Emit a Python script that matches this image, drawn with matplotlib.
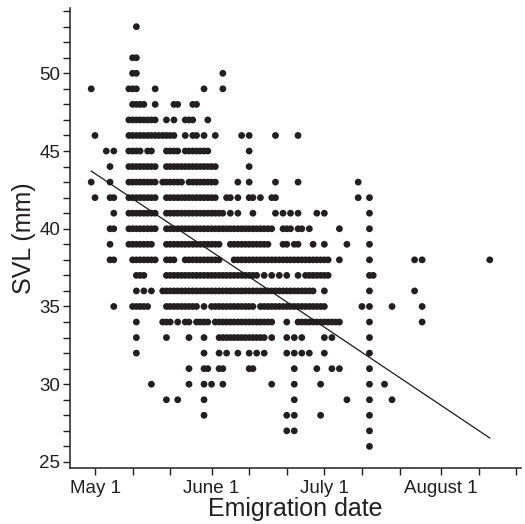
import numpy as np
import matplotlib
matplotlib.use("Agg")
import matplotlib.pyplot as plt

plt.rcParams['font.family'] = ['Liberation Sans', 'DejaVu Sans']

# Emigration day (days since May 1) of each animal, grouped by SVL (mm)
svl_53 = [11]
svl_52 = []
svl_51 = [10, 11]
svl_50 = [10, 11, 34]
svl_49 = [-1, 9, 10, 11, 16, 29, 34]
svl_48 = [10, 11, 12, 13, 16, 21, 22, 26, 27]
svl_47 = [9, 10, 11, 12, 13, 14, 15, 16, 19, 21, 24, 25, 26, 30]
svl_46 = [0, 9, 10, 11, 12, 13, 14, 15, 16, 17, 18, 19, 20, 21, 24, 26, 27, 29,
          32, 39, 41, 48, 54]
svl_45 = [3, 5, 9, 10, 11, 12, 14, 15, 19, 20, 21, 22, 24, 25, 26, 27, 28, 29,
          30, 41]
svl_44 = [4, 9, 10, 11, 12, 13, 14, 15, 16, 19, 20, 21, 22, 23, 24, 25, 26, 27,
          28, 29, 30, 31, 32, 41]
svl_43 = [-1, 4, 9, 10, 11, 12, 13, 14, 15, 16, 18, 19, 20, 21, 22, 23, 25, 26,
          27, 28, 29, 30, 31, 32, 38, 41, 48, 54, 70]
svl_42 = [0, 4, 5, 9, 10, 11, 12, 13, 14, 15, 16, 19, 20, 21, 22, 23, 24, 25, 26,
          27, 28, 29, 30, 31, 32, 35, 36, 38, 41, 42, 44, 47, 48, 70, 73]
svl_41 = [5, 9, 10, 11, 12, 13, 14, 15, 16, 19, 20, 21, 22, 23, 24, 25, 26, 27,
          28, 29, 30, 31, 32, 33, 34, 36, 38, 42, 48, 50, 52, 54, 59, 61, 73]
svl_40 = [4, 5, 9, 10, 11, 12, 13, 14, 15, 16, 19, 20, 21, 22, 23, 24, 25, 26,
          27, 28, 29, 30, 31, 32, 33, 34, 35, 36, 37, 38, 39, 40, 41, 42, 43, 44,
          45, 46, 47, 50, 51, 52, 54, 55, 57, 65, 73]
svl_39 = [4, 9, 10, 11, 12, 13, 14, 15, 19, 20, 21, 22, 23, 24, 25, 26, 27, 28,
          29, 30, 31, 32, 33, 36, 37, 38, 39, 40, 41, 42, 43, 44, 45, 46, 50, 51,
          53, 54, 58, 61, 67, 73]
svl_38 = [4, 5, 10, 11, 12, 13, 14, 15, 16, 19, 20, 21, 24, 25, 26, 27, 28, 29,
          30, 31, 32, 33, 37, 38, 39, 40, 41, 42, 43, 44, 45, 46, 47, 48, 49, 50,
          51, 52, 53, 54, 55, 56, 57, 58, 59, 60, 61, 62, 65, 73, 85, 87, 105]
svl_37 = [11, 12, 13, 19, 20, 21, 22, 23, 24, 25, 26, 27, 28, 29, 30, 31, 32, 33,
          34, 35, 36, 37, 38, 39, 40, 41, 42, 43, 45, 47, 49, 51, 54, 56, 57, 58,
          59, 60, 61, 62, 73, 74]
svl_36 = [11, 13, 15, 18, 19, 20, 21, 22, 23, 24, 25, 26, 27, 28, 29, 30, 31, 32,
          33, 34, 35, 36, 37, 38, 39, 40, 41, 42, 43, 44, 45, 46, 47, 48, 49, 50,
          51, 52, 53, 54, 55, 56, 57, 58, 61, 73, 85]
svl_35 = [5, 10, 11, 12, 13, 14, 19, 20, 21, 22, 23, 24, 25, 26, 27, 29, 31, 32,
          33, 34, 35, 36, 37, 38, 39, 40, 41, 42, 44, 45, 46, 47, 48, 49, 50, 51,
          52, 53, 54, 55, 56, 57, 58, 59, 60, 61, 71, 73, 79, 87]
svl_34 = [11, 18, 19, 20, 22, 24, 25, 27, 28, 29, 30, 32, 33, 34, 35, 36, 37, 38,
          39, 40, 41, 42, 43, 44, 45, 46, 47, 51, 54, 55, 56, 57, 58, 59, 60, 61,
          62, 63, 64, 65, 73, 87]
svl_33 = [11, 19, 25, 29, 33, 34, 35, 36, 37, 38, 39, 40, 41, 42, 43, 44, 45, 47,
          51, 53, 55, 61, 63, 73]
svl_32 = [11, 29, 33, 35, 38, 41, 43, 45, 51, 53, 55, 57, 61, 73]
svl_31 = [25, 29, 30, 33, 34, 41, 42, 53, 59, 63, 65, 73]
svl_30 = [15, 25, 29, 31, 34, 47, 53, 60, 73, 77]
svl_29 = [19, 22, 29, 53, 67, 73, 79]
svl_28 = [29, 51, 53, 60, 73]
svl_27 = [51, 53, 73]
svl_26 = [73]

rows = {53: svl_53, 52: svl_52, 51: svl_51, 50: svl_50, 49: svl_49, 48: svl_48,
        47: svl_47, 46: svl_46, 45: svl_45, 44: svl_44, 43: svl_43, 42: svl_42,
        41: svl_41, 40: svl_40, 39: svl_39, 38: svl_38, 37: svl_37, 36: svl_36,
        35: svl_35, 34: svl_34, 33: svl_33, 32: svl_32, 31: svl_31, 30: svl_30,
        29: svl_29, 28: svl_28, 27: svl_27, 26: svl_26}

# Regression line (SVL = a + b * day)
fit_intercept = 43.55
fit_slope = -0.162

# Axis ticks
xtick_days = [0, 10, 20, 31, 41, 51, 61, 71, 81, 92, 102, 112]
xtick_labels = ['May 1', '', '', 'June 1', '', '', 'July 1', '', '', 'August 1', '', '']
ytick_major = [25, 30, 35, 40, 45, 50]

days = np.concatenate([np.array(v, dtype=float) for v in rows.values()])
svl = np.concatenate([np.full(len(v), k, dtype=float) for k, v in rows.items()])

W, H = 525, 524
fig = plt.figure(figsize=(W / 100, H / 100), dpi=100)
ax = fig.add_axes([70 / W, 56 / H, (521 - 70) / W, (516 - 56) / H])

dot_color = '#231f20'
ax.scatter(days, svl, s=24, color=dot_color, edgecolors='none', zorder=3)

xl = np.array([days.min(), days.max()])
ax.plot(xl, fit_intercept + fit_slope * xl, color='#1a1a1a', lw=0.9, zorder=4)

ax.set_xlim(-6.65, 113.3)
ax.set_ylim(24.61, 54.2)

for s in ['top', 'right']:
    ax.spines[s].set_visible(False)
for s in ['left', 'bottom']:
    ax.spines[s].set_linewidth(1.1)
    ax.spines[s].set_color('#231f20')

ax.set_xticks(xtick_days)
ax.set_xticklabels(xtick_labels)
ax.set_yticks(np.arange(25, 55, 1))
ax.set_yticklabels([str(v) if v in ytick_major else '' for v in range(25, 55)])
ax.tick_params(axis='both', direction='out', length=5, width=1.0,
               colors='#231f20', labelsize=13.5, pad=2)
ax.tick_params(axis='x', pad=3.5)

ax.set_xlabel('Emigration date', fontsize=18, color='#231f20', labelpad=0)
ax.set_ylabel('SVL (mm)', fontsize=18, color='#231f20', labelpad=2)

fig.savefig('out.png', dpi=100)
